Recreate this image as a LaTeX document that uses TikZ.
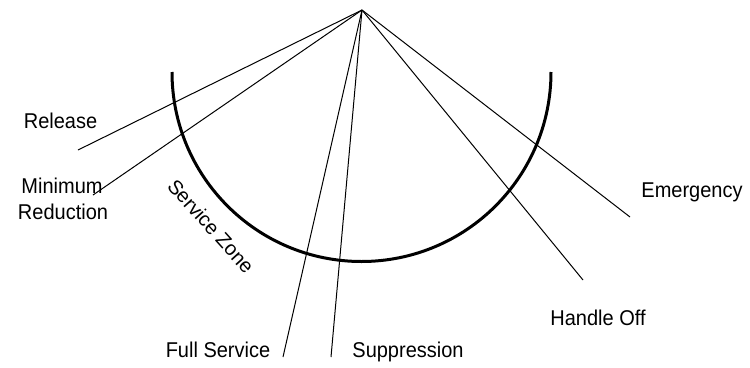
\documentclass[tikz,border=0pt]{standalone}
\usepackage{fontspec}
\setmainfont{Liberation Sans}
\begin{document}
\begin{tikzpicture}[x=1pt,y=-1pt,
  lbl/.style={font=\fontsize{20}{26}\selectfont, inner sep=0pt, anchor=base, yscale=1.07},
  ray/.style={line width=1pt},
  zone/.style={line width=3pt}]
\useasboundingbox (0,0) rectangle (750,367);
\coordinate (apex) at (362,10);
\coordinate (eRel) at (78,150);
\coordinate (eMin) at (93,195);
\coordinate (eFull) at (283,357);
\coordinate (eSup) at (331,357);
\coordinate (eHand) at (583,280);
\coordinate (eEme) at (630,217);
\coordinate (arcL) at (172,72);
\draw[zone] (arcL) arc[start angle=180,end angle=0,radius=189.5];
\draw[ray] (apex) -- (eRel);
\draw[ray] (apex) -- (eMin);
\draw[ray] (apex) -- (eFull);
\draw[ray] (apex) -- (eSup);
\draw[ray] (apex) -- (eHand);
\draw[ray] (apex) -- (eEme);
\node[lbl] (tRel) at (60.5,128) {Release};
\node[lbl] (tMin) at (62,193) {Minimum};
\node[lbl] (tRed) at (63,219) {Reduction};
\node[lbl] (tEme) at (692,197) {Emergency};
\node[lbl] (tHand) at (598,325) {Handle Off};
\node[lbl] (tFull) at (218,357) {Full Service};
\node[lbl] (tSup) at (408,357) {Suppression};
\node[font=\fontsize{20}{26}\selectfont, inner sep=0pt, rotate=-48] (tZone) at (211,226) {Service Zone};
\end{tikzpicture}
\end{document}
